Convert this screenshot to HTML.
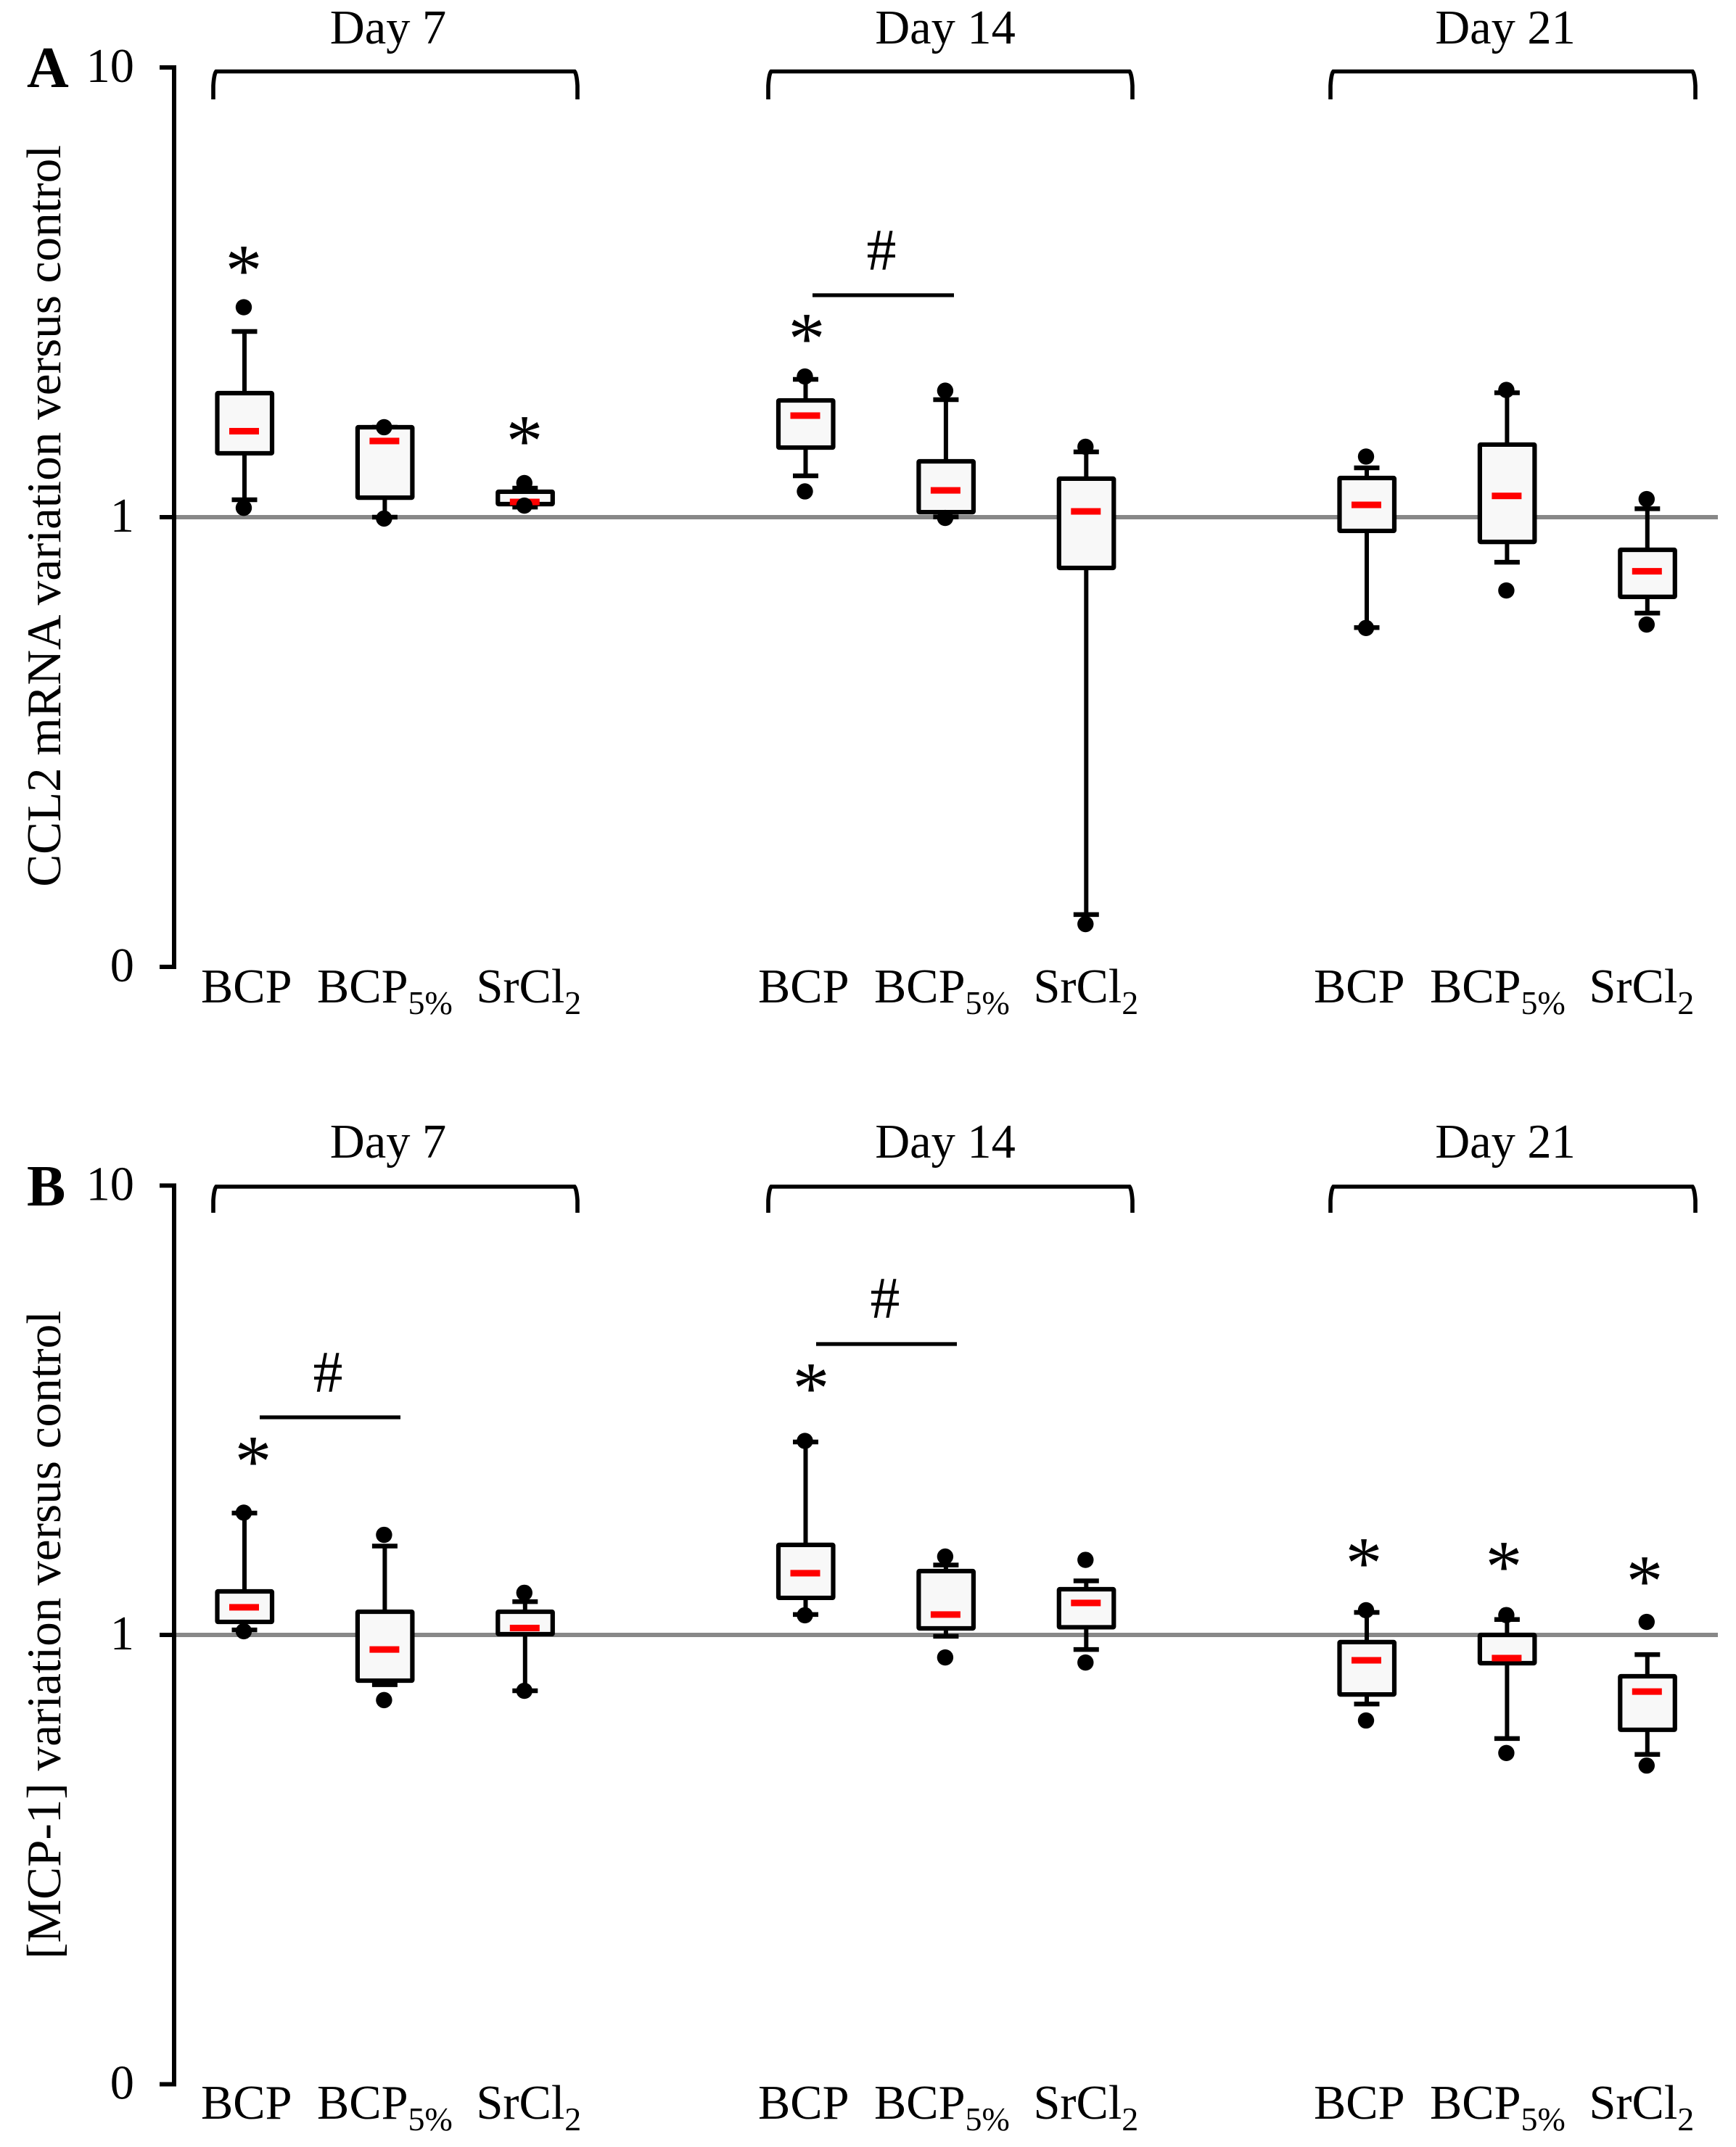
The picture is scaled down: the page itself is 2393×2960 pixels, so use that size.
<!DOCTYPE html>
<html lang="en">
<head>
<meta charset="utf-8">
<title>CCL2 mRNA and MCP-1 variation versus control</title>
<style>
html,body{margin:0;padding:0;background:#fff;}
svg{display:block;}
text{font-family:"Liberation Serif",serif;fill:#000;}
.lbl{font-size:66.4px;}
.ttl{font-size:67.2px;}
.sub{font-size:46px;}
.letter{font-size:80px;font-weight:bold;}
.star{font-size:102px;text-anchor:middle;}
.hash{font-size:82px;text-anchor:middle;}
.brk{fill:none;stroke:#000;stroke-width:5.6;}
.sig{stroke:#000;stroke-width:5.2;}
</style>
</head>
<body>
<svg id="chart" xmlns="http://www.w3.org/2000/svg" width="2393" height="2960" viewBox="0 0 2393 2960">
  <rect x="0" y="0" width="2393" height="2960" fill="#ffffff"/>

  <g>
    <text class="letter" x="37" y="120">A</text>
    <text class="ttl" text-anchor="end" transform="translate(83,200) rotate(-90)">CCL2 mRNA variation versus control</text>
    <path class="brk" d="M294,137 L294,118 Q295,102 298,98.5 L792,98.5 Q795,102 796,118 L796,137"/>
    <path class="brk" d="M1059,137 L1059,118 Q1060,102 1063,98.5 L1557,98.5 Q1560,102 1561,118 L1561,137"/>
    <path class="brk" d="M1839,137 L1839,118 Q1840,102 1843,98.5 L2338,98.5 Q2341,102 2342,118 L2342,137" transform="translate(-5,0)"/>
    <text class="lbl" text-anchor="middle" x="535" y="60">Day 7</text>
    <text class="lbl" text-anchor="middle" x="1303" y="60">Day 14</text>
    <text class="lbl" text-anchor="middle" x="2075" y="60">Day 21</text>
    <text class="star" x="336" y="407">*</text>
    <text class="star" x="723" y="642">*</text>
    <text class="star" x="1112" y="501">*</text>
    <text class="hash" x="1215" y="372">#</text>
    <line class="sig" x1="1120" y1="407" x2="1315" y2="407"/>
  </g>

  <g>
    <text class="letter" x="37" y="1662">B</text>
    <text class="ttl" text-anchor="end" transform="translate(83,1807) rotate(-90)">[MCP-1] variation versus control</text>
    <path class="brk" d="M294,1672 L294,1655 Q295,1640 298,1636 L792,1636 Q795,1640 796,1655 L796,1672"/>
    <path class="brk" d="M1059,1672 L1059,1655 Q1060,1640 1063,1636 L1557,1636 Q1560,1640 1561,1655 L1561,1672"/>
    <path class="brk" d="M1834,1672 L1834,1655 Q1835,1640 1838,1636 L2333,1636 Q2336,1640 2337,1655 L2337,1672"/>
    <text class="lbl" text-anchor="middle" x="535" y="1596">Day 7</text>
    <text class="lbl" text-anchor="middle" x="1303" y="1596">Day 14</text>
    <text class="lbl" text-anchor="middle" x="2075" y="1596">Day 21</text>
    <text class="star" x="349" y="2049">*</text>
    <text class="star" x="1118" y="1948">*</text>
    <text class="star" x="1880" y="2189">*</text>
    <text class="star" x="2073" y="2194">*</text>
    <text class="star" x="2267" y="2214">*</text>
    <text class="hash" x="452" y="1919">#</text>
    <line class="sig" x1="358" y1="1954" x2="552" y2="1954"/>
    <text class="hash" x="1220" y="1817">#</text>
    <line class="sig" x1="1125" y1="1853" x2="1319" y2="1853"/>
  </g>
</svg>
<script>
const categories = ['BCP', 'BCP5%', 'SrCl2'];
const days = ['Day 7', 'Day 14', 'Day 21'];
const yTickValues = [10, 1, 0.1];
const yTickLabels = ['10', '1', '0'];

const aWhiskerHigh = [2.588, 1.585, 1.160, 2.025, 1.825, 1.397, 1.287, 1.891, 1.044];
const aQ3 = [1.887, 1.585, 1.139, 1.818, 1.331, 1.218, 1.222, 1.450, 0.846];
const aMedian = [1.553, 1.477, 1.081, 1.682, 1.147, 1.030, 1.065, 1.115, 0.758];
const aQ1 = [1.387, 1.105, 1.069, 1.428, 1.026, 0.771, 0.932, 0.881, 0.665];
const aWhiskerLow = [1.093, 1.000, 1.053, 1.236, 1.001, 0.1307, 0.568, 0.794, 0.612];
const aOutlierHigh = [2.930, 1.585, 1.191, 2.055, 1.911, 1.434, 1.364, 1.918, 1.097];
const aOutlierLow = [1.049, 0.993, 1.061, 1.141, 0.996, 0.1245, 0.567, 0.687, 0.577];

const bWhiskerHigh = [1.867, 1.577, 1.186, 2.688, 1.431, 1.319, 1.122, 1.082, 0.904];
const bQ3 = [1.250, 1.126, 1.126, 1.586, 1.387, 1.264, 0.964, 1.000, 0.809];
const bMedian = [1.152, 0.928, 1.036, 1.372, 1.110, 1.178, 0.878, 0.888, 0.748];
const bQ1 = [1.069, 0.791, 1.004, 1.209, 1.034, 1.040, 0.737, 0.865, 0.615];
const bWhiskerLow = [1.026, 0.775, 0.751, 1.110, 0.993, 0.928, 0.702, 0.588, 0.542];
const bOutlierHigh = [1.871, 1.670, 1.241, 2.702, 1.494, 1.469, 1.135, 1.107, 1.069];
const bOutlierLow = [1.019, 0.716, 0.751, 1.106, 0.891, 0.868, 0.645, 0.546, 0.512];

const SVG_NS = 'http://www.w3.org/2000/svg';
const svg = document.getElementById('chart');

function make(tag, attrs, parent) {
  const node = document.createElementNS(SVG_NS, tag);
  for (const k in attrs) node.setAttribute(k, attrs[k]);
  parent.appendChild(node);
  return node;
}

function xCenter(index) {
  const group = Math.floor(index / categories.length);
  const slot = index % categories.length;
  return 337 + group * 773.5 + slot * 193.4;
}

function makeYScale(oneY, decade) {
  return function (v) { return oneY - decade * Math.log10(v); };
}

function drawAxis(panel, y) {
  const group = make('g', {}, svg);
  
  
  const gray = make('rect', { x: 240, y: y(1) - 3, width: 2128, height: 6, fill: '#888888' }, group);
  
  
  const axis = make('rect', { x: 237, y: y(10) - 3, width: 6, height: y(0.1) - y(10) + 6, fill: '#000' }, group);
  
  
  yTickValues.forEach(function (v, i) {
    const tick = make('rect', { x: 220, y: y(v) - 3, width: 20, height: 6, fill: '#000' }, group);
    
    
    const label = make('text', { x: 185, y: y(v) + 20, 'text-anchor': 'end', class: 'lbl' }, group);
    
    
    label.textContent = yTickLabels[i];
  });
}

function drawCategoryLabels(panel, baseline) {
  days.forEach(function (day, g) {
    const start = [277, 1045, 1811][g];
    const bcp = make('text', { x: start, y: baseline, class: 'lbl' }, svg);
    
    
    bcp.textContent = 'BCP';

    const bcp5 = make('text', { x: start + 160, y: baseline, class: 'lbl' }, svg);
    
    
    bcp5.appendChild(document.createTextNode('BCP'));
    const sub5 = make('tspan', { class: 'sub', dy: 16 }, bcp5);
    sub5.textContent = '5%';

    const sr = make('text', { x: start + 379.5, y: baseline, class: 'lbl' }, svg);
    
    
    sr.appendChild(document.createTextNode('SrCl'));
    const sub2 = make('tspan', { class: 'sub', dy: 16 }, sr);
    sub2.textContent = '2';
  });
}

function drawBoxes(panel, y, wHigh, q3, med, q1, wLow, oHigh, oLow) {
  med.forEach(function (m, i) {
    const cx = xCenter(i);
    const g = make('g', {}, svg);
    
    

    const whisker = make('line', { x1: cx, x2: cx, y1: y(wHigh[i]), y2: y(wLow[i]), stroke: '#000', 'stroke-width': 6 }, g);
    
    

    const capTop = make('line', { x1: cx - 17.5, x2: cx + 17.5, y1: y(wHigh[i]), y2: y(wHigh[i]), stroke: '#000', 'stroke-width': 6.5 }, g);
    
    

    const capLow = make('line', { x1: cx - 17.5, x2: cx + 17.5, y1: y(wLow[i]), y2: y(wLow[i]), stroke: '#000', 'stroke-width': 6.5 }, g);
    
    

    const box = make('rect', { x: cx - 37.5, y: y(q3[i]), width: 75.5, height: y(q1[i]) - y(q3[i]), rx: 1, fill: '#f8f8f8', stroke: '#000', 'stroke-width': 6.2 }, g);
    
    

    const medianBar = make('rect', { x: cx - 21, y: y(m) - 4.5, width: 41, height: 9, fill: '#ff0000' }, g);
    
    

    const dotHigh = make('circle', { cx: cx - 1, cy: y(oHigh[i]), r: 11.2, fill: '#000' }, g);
    
    

    const dotLow = make('circle', { cx: cx - 1, cy: y(oLow[i]), r: 11.2, fill: '#000' }, g);
    
    
  });
}

const yA = makeYScale(713, 620);
const yB = makeYScale(2254, 619.5);

drawAxis('panel-a', yA);
drawAxis('panel-b', yB);
drawBoxes('panel-a', yA, aWhiskerHigh, aQ3, aMedian, aQ1, aWhiskerLow, aOutlierHigh, aOutlierLow);
drawBoxes('panel-b', yB, bWhiskerHigh, bQ3, bMedian, bQ1, bWhiskerLow, bOutlierHigh, bOutlierLow);
drawCategoryLabels('panel-a', 1382);
drawCategoryLabels('panel-b', 2921);
</script>
</body>
</html>
